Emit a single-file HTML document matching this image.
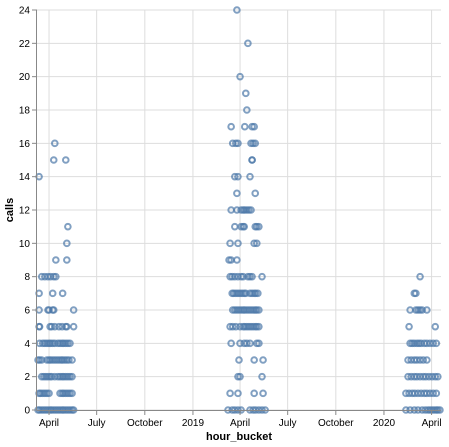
<!DOCTYPE html>
<html><head><meta charset="utf-8"><style>
body{margin:0;background:#fff}
svg{display:block;font-family:"Liberation Sans",sans-serif}
</style></head><body>
<svg id="chart" width="449" height="447" viewBox="0 0 449 447"></svg>
<script>
// calls level for each group, and day offsets (days since 2019-01-01) for points at that level
const callLevels = [0,1,2,3,4,5,6,7,8,9,10,11,12,13,14,15,16,17,18,19,20,22,24];
const dayOffsets = [
 [-296,-293,-289,-285,-281,-277,-273,-270,-266,-262,-258,-254,-250,-247,-243,-239,-235,-231,-228, 67,75,80,86,92,109,115,120,126,132,138, 407,415,423,430,438,444,449,453,457,461,465,468,472],
 [-294,-291,-287,-283,-279,-275,-254,-250,-247,-243,-239,-235,-231, 71,86,117,134, 407,413,419,424,430,436,442,447,453,459,465],
 [-289,-285,-281,-277,-273,-270,-264,-258,-254,-250,-247,-243,-239,-235,-231, 86,90,132, 411,417,423,428,434,440,445,451,457,463,468],
 [-296,-293,-289,-279,-275,-272,-268,-264,-260,-256,-252,-249,-245,-241,-237,-231, 88,117,134, 411,417,423,428,434,440,447],
 [-293,-287,-283,-279,-275,-272,-268,-264,-258,-254,-250,-247,-243,-239,-235, 73,90,98,103,109,122,126, 415,419,423,428,432,436,442,447,453,459,465],
 [-294,-293,-273,-270,-264,-256,-250,-243,-241,-228, 71,76,82,90,96,99,103,107,111,115,119,122,126, 413,463],
 [-294,-277,-275,-268,-266,-228, 76,80,84,88,92,96,99,103,107,111,115,119,122,126, 415,426,430,434,438,447],
 [-294,-268,-249, 75,78,82,86,90,94,98,101,109,113,117,120,124, 423,426],
 [-289,-283,-277,-272,-266,-262, 71,75,80,86,92,96,105,109,113,132, 434],
 [-262,-241, 69,73,84],
 [-241, 71,86,117,122],
 [-239, 80,92,96,98,119,122,126],
 [73,84,92,96,99,103,107,111],
 [84,119],
 [-294, 80,86,109],
 [-266,-243, 113,113],
 [-264, 76,82,86,111,115,119],
 [73,99,113,117],
 [103],[101],[90],[105],[84]
];
const yTicks = [0,2,4,6,8,10,12,14,16,18,20,22,24];
const xTickDays = [-275,-184,-92,0,90,181,273,365,456];
const xTickLabels = ["April","July","October","2019","April","July","October","2020","April"];

const L=37,R=441,T=10,B=410;
const xDomain=[-298,474], yDomain=[0,24];
const xs=d=>L+(d-xDomain[0])/(xDomain[1]-xDomain[0])*(R-L);
const ys=v=>B-(v-yDomain[0])/(yDomain[1]-yDomain[0])*(B-T);
const svg=document.getElementById('chart');
const NS='http://www.w3.org/2000/svg';
function mk(tag,attrs,parent){const e=document.createElementNS(NS,tag);for(const k in attrs)e.setAttribute(k,attrs[k]);(parent||svg).appendChild(e);return e;}

const grid=mk('g',{});


xTickDays.forEach(d=>{const l=mk('line',{x1:xs(d),x2:xs(d),y1:T,y2:B,stroke:'#ddd','stroke-width':1},grid);

});
yTicks.forEach(v=>{const l=mk('line',{x1:L,x2:R,y1:ys(v),y2:ys(v),stroke:'#ddd','stroke-width':1},grid);

});

const pts=mk('g',{});


callLevels.forEach((c,i)=>{dayOffsets[i].forEach(d=>{
 const p=mk('circle',{cx:xs(d),cy:ys(c),r:2.8,fill:'none',stroke:'#4c78a8','stroke-width':2,opacity:0.7},pts);
 
 
});});

const xa=mk('g',{});


mk('line',{x1:L,x2:R,y1:B+0.5,y2:B+0.5,stroke:'#888'},xa);
xTickDays.forEach((d,i)=>{
 mk('line',{x1:xs(d),x2:xs(d),y1:B,y2:B+5,stroke:'#888'},xa);
 const t=mk('text',{x:xs(d),y:B+16,'text-anchor':'middle','font-size':10,fill:'#000'},xa);
 t.textContent=xTickLabels[i];
 
 
});
const xt=mk('text',{x:(L+R)/2,y:440,'text-anchor':'middle','font-size':11,'font-weight':'bold',fill:'#000'});
xt.textContent='hour_bucket';



const ya=mk('g',{});


mk('line',{x1:L-0.5,x2:L-0.5,y1:T,y2:B,stroke:'#888'},ya);
yTicks.forEach(v=>{
 mk('line',{x1:L-5,x2:L,y1:ys(v),y2:ys(v),stroke:'#888'},ya);
 const t=mk('text',{x:L-7,y:ys(v)+3.5,'text-anchor':'end','font-size':10,fill:'#000'},ya);
 t.textContent=v;
 
 
});
const yt=mk('text',{x:0,y:0,transform:'translate(13,210) rotate(-90)','text-anchor':'middle','font-size':11,'font-weight':'bold',fill:'#000'});
yt.textContent='calls';


</script>
</body></html>
